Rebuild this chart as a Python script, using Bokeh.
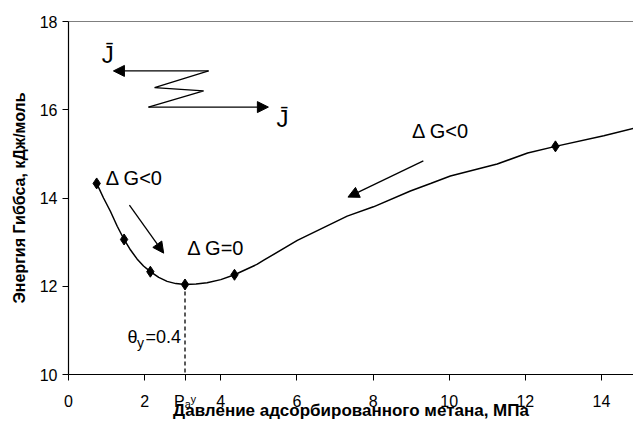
from bokeh.plotting import figure
from bokeh.models import Range1d, Label, Arrow, NormalHead, Span, FixedTicker
from bokeh.embed import file_html
from bokeh.resources import INLINE

# Data points (markers)
pt_x = [0.74, 1.46, 2.15, 3.06, 4.36, 12.79]
pt_y = [14.33, 13.06, 12.33, 12.04, 12.26, 15.17]

# Smooth curve
curve_x = [0.74, 0.92, 1.10, 1.28, 1.46, 1.63, 1.80, 1.97, 2.15, 2.37, 2.59, 2.82, 3.06,
           3.35, 3.64, 4.00, 4.36, 4.96, 5.13, 6.01, 7.32, 8.01, 8.98, 9.51, 10.03,
           11.26, 12.06, 12.79, 14.06, 14.84]
curve_y = [14.33, 14.00, 13.70, 13.36, 13.06, 12.82, 12.62, 12.46, 12.33, 12.20, 12.11, 12.06, 12.04,
           12.05, 12.08, 12.15, 12.26, 12.50, 12.59, 13.04, 13.59, 13.80, 14.16, 14.33, 14.50,
           14.77, 15.02, 15.17, 15.41, 15.58]

P_a_x = 3.06
x_ticks = [0, 2, 4, 6, 8, 10, 12, 14]
y_ticks = [10, 12, 14, 16, 18]
x_tick_labels = {P_a_x: "Pₐʸ"}

FONT = "Liberation Sans"

p = figure(width=633, height=423, output_backend="svg", toolbar_location=None,
           x_range=Range1d(0, 14.84), y_range=Range1d(10, 18),
           min_border_left=68, min_border_right=0, min_border_top=21, min_border_bottom=49)
p.outline_line_color = None
p.grid.visible = False
p.background_fill_color = "white"
p.border_fill_color = "white"

for ax in (p.xaxis, p.yaxis):
    ax.axis_line_color = "black"
    ax.axis_line_width = 1.2
    ax.major_tick_line_color = "black"
    ax.major_tick_out = 6
    ax.major_tick_in = 0
    ax.minor_tick_line_color = None
    ax.major_label_text_font = FONT
    ax.major_label_text_font_size = "16px"
    ax.major_label_text_color = "black"
    ax.axis_label_text_font = FONT
    ax.axis_label_text_font_style = "bold"
    ax.axis_label_text_color = "black"

p.xaxis.ticker = FixedTicker(ticks=x_ticks + [P_a_x])
p.xaxis.major_label_overrides = x_tick_labels
p.yaxis.ticker = FixedTicker(ticks=y_ticks)
p.xaxis.axis_label = "Давление адсорбированного метана, МПа"
p.yaxis.axis_label = "Энергия Гиббса, кДж/моль"
p.xaxis.axis_label_text_font_size = "17px"
p.yaxis.axis_label_text_font_size = "16px"
p.xaxis.major_label_standoff = 12
p.xaxis.axis_label_standoff = -12
p.yaxis.major_label_standoff = 5
p.yaxis.axis_label_standoff = 9

# top border
p.add_layout(Span(location=18, dimension="width", line_color="black", line_width=1.2))

p.line(curve_x, curve_y, line_color="black", line_width=1.5)
p.scatter(pt_x, pt_y, marker="diamond", size=11, color="black")

# dashed drop line to P_a^y
p.add_layout(Arrow(end=None, x_start=P_a_x, y_start=12.04, x_end=P_a_x, y_end=10,
                   line_color="black", line_width=1.3, line_dash="4 3"))

def arrow(x0, y0, x1, y1):
    p.add_layout(Arrow(end=NormalHead(size=11, fill_color="black", line_color="black"),
                       x_start=x0, y_start=y0, x_end=x1, y_end=y1,
                       line_color="black", line_width=1.3))

arrow(1.60, 13.84, 2.50, 12.75)
arrow(9.32, 14.84, 7.34, 14.02)

# zigzag flux arrows
zx = [3.68, 2.26, 3.55, 2.10]
zy = [16.88, 16.50, 16.43, 16.06]
p.line(zx, zy, line_color="black", line_width=1.3)
arrow(3.68, 16.88, 1.18, 16.88)
arrow(2.10, 16.06, 5.25, 16.06)

def label(x, y, t, size="20px", align="left", base="middle", style="normal"):
    p.add_layout(Label(x=x, y=y, text=t, text_font=FONT, text_font_size=size,
                       text_align=align, text_baseline=base, text_color="black",
                       text_font_style=style))

label(1.03, 17.25, "J\u0304", size="24px", align="center")
label(5.62, 15.81, "J\u0304", size="24px", align="center")
label(0.98, 14.45, "Δ G<0")
label(3.12, 12.86, "Δ G=0")
label(9.02, 15.52, "Δ G<0")
# theta_y = 0.4
label(1.55, 10.84, "θ", size="18px")
label(1.80, 10.72, "y", size="14px")
label(2.02, 10.84, "=0.4", size="18px")

open("out.html", "w").write(file_html(p, INLINE))
